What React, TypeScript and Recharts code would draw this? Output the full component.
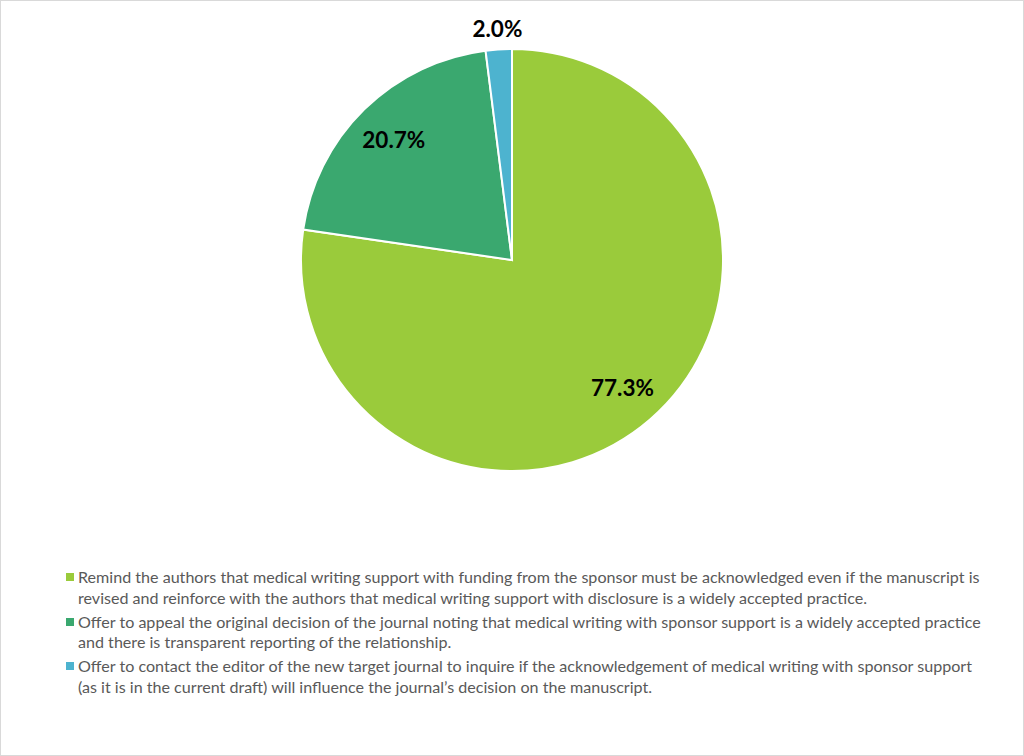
import { PieChart, Pie, Cell } from 'recharts';

const categories = [
    'Remind the authors that medical writing support with funding from the sponsor must be acknowledged even if the manuscript is revised and reinforce with the authors that medical writing support with disclosure is a widely accepted practice.',
    'Offer to appeal the original decision of the journal noting that medical writing with sponsor support is a widely accepted practice and there is transparent reporting of the relationship.',
    'Offer to contact the editor of the new target journal to inquire if the acknowledgement of medical writing with sponsor support (as it is in the current draft) will influence the journal\u2019s decision on the manuscript.',
];
const shares = [77.3, 20.7, 2.0];
const colors = ['#9ACB3B', '#3AA86F', '#4DB3CF'];

const data = categories.map((name, i) => ({ name, value: shares[i] }));

const FONT = 'Lato, "Open Sans", sans-serif';
const RAD = Math.PI / 180;

function renderLabel(props: any) {
    const { cx, cy, midAngle, outerRadius, value } = props;
    // small slices get their label pushed outside like Excel's best fit
    const r = value < 5 ? outerRadius + 21 : outerRadius * 0.8;
    const x = cx + r * Math.cos(-midAngle * RAD);
    const y = cy + r * Math.sin(-midAngle * RAD);
    return (
        <text x={x} y={y} textAnchor="middle" dominantBaseline="central"
            fill="#000" fontSize={22.5} fontWeight={700} fontFamily={FONT}>
            {value.toFixed(1)}%
        </text>
    );
}

export default function App() {
    return (
        <div style={{
            position: 'absolute', left: 0, top: 0, width: 1024, height: 756,
            boxSizing: 'border-box', border: '1px solid #d9d9d9', background: '#fff',
        }}>
            <PieChart width={1022} height={540} margin={{ top: 0, right: 0, bottom: 0, left: 0 }}>
                <Pie
                    data={data}
                    dataKey="value"
                    nameKey="name"
                    cx={511}
                    cy={259}
                    outerRadius={211}
                    startAngle={90}
                    endAngle={-270}
                    stroke="#fff"
                    strokeWidth={2}
                    label={renderLabel}
                    labelLine={false}
                    isAnimationActive={false}
                >
                    {data.map((d, i) => (
                        <Cell key={d.name} fill={colors[i]} />
                    ))}
                </Pie>
            </PieChart>
            <div style={{
                position: 'absolute', left: 65, top: 566, width: 915,
                fontFamily: FONT, fontSize: 16.1, color: '#595959', lineHeight: '20.5px',
            }}>
                {categories.map((c, i) => (
                    <div key={i} style={{ display: 'flex', alignItems: 'flex-start', marginBottom: 3.5 }}>
                        <span style={{ width: 8, height: 8, background: colors[i], flex: '0 0 8px', marginTop: 6, marginRight: 4 }} />
                        <span>{c}</span>
                    </div>
                ))}
            </div>
        </div>
    );
}
